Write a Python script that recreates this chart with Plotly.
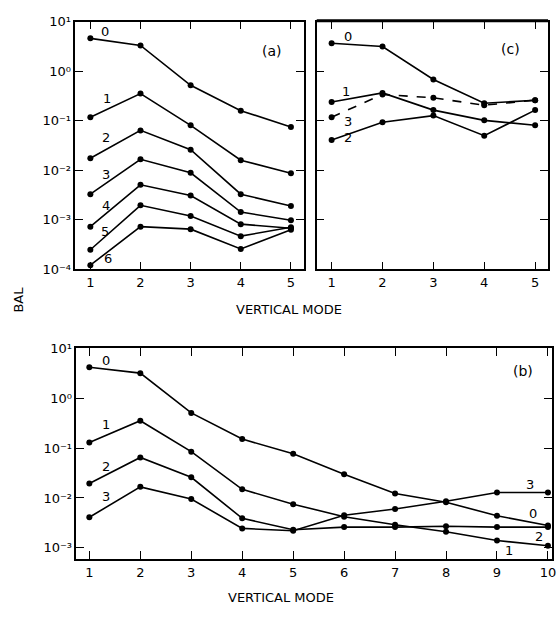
import plotly.graph_objects as go

# ---------------- data ----------------
modes_ac = [1, 2, 3, 4, 5]
a0 = [4.6, 3.3, 0.52, 0.16, 0.075]
a1 = [0.118, 0.354, 0.081, 0.016, 0.0087]
a2 = [0.0175, 0.064, 0.026, 0.0033, 0.0019]
a3 = [0.0033, 0.0167, 0.0089, 0.00144, 0.00098]
a4 = [0.00073, 0.0051, 0.0031, 0.00082, 0.00068]
a5 = [0.00025, 0.00197, 0.0012, 0.00047, 0.00071]
a6 = [0.000122, 0.00073, 0.00065, 0.00026, 0.00063]

c0 = [3.65, 3.14, 0.68, 0.225, 0.26]
c1 = [0.24, 0.365, 0.164, 0.102, 0.081]
c2 = [0.041, 0.093, 0.127, 0.05, 0.164]
c3 = [0.118, 0.34, 0.29, 0.206, 0.26]

modes_b = [1, 2, 3, 4, 5, 6, 7, 8, 9, 10]
b0 = [4.2, 3.2, 0.51, 0.152, 0.077, 0.030, 0.0123, 0.0082, 0.0044, 0.0028]
b1 = [0.13, 0.355, 0.085, 0.0149, 0.0075, 0.0042, 0.0029, 0.0021, 0.0014, 0.0011]
b2 = [0.0195, 0.065, 0.026, 0.0039, 0.0023, 0.0026, 0.0026, 0.0027, 0.0026, 0.0026]
b3 = [0.0041, 0.0167, 0.0095, 0.00245, 0.0022, 0.0045, 0.006, 0.0086, 0.0129, 0.0129]

ytick_vals_a = [10, 1, 0.1, 0.01, 0.001, 0.0001]
ytick_text_a = ["10¹", "10⁰", "10⁻¹", "10⁻²", "10⁻³", "10⁻⁴"]
ytick_vals_b = [10, 1, 0.1, 0.01, 0.001]
ytick_text_b = ["10¹", "10⁰", "10⁻¹", "10⁻²", "10⁻³"]

# ---------------- layout helpers ----------------
W, H = 558, 617
def px(x):
    return x / W
def py(y):
    return 1 - y / H

FONT = "DejaVu Sans"
fig = go.Figure()

def add_series(xs, ys, xa, ya, dash="solid"):
    fig.add_trace(go.Scatter(
        x=xs, y=ys, xaxis=xa, yaxis=ya, mode="lines+markers",
        line=dict(color="black", width=1.6, dash=dash),
        marker=dict(color="black", size=6),
        showlegend=False, hoverinfo="skip"))

for s in [a0, a1, a2, a3, a4, a5, a6]:
    add_series(modes_ac, s, "x", "y")
for s, d in [(c0, "solid"), (c1, "solid"), (c2, "solid"), (c3, "dash")]:
    add_series(modes_ac, s, "x2", "y2", d)
for s in [b0, b1, b2, b3]:
    add_series(modes_b, s, "x3", "y3")

axis_common = dict(showline=True, linecolor="black", linewidth=1.5, mirror="allticks",
                   ticks="inside", ticklen=8, tickwidth=1.2, tickcolor="black",
                   showgrid=False, zeroline=False, ticklabeloverflow="allow",
                   tickfont=dict(family=FONT, size=13, color="black"))

fig.update_layout(
    width=W, height=H, margin=dict(l=0, r=0, t=0, b=0),
    paper_bgcolor="white", plot_bgcolor="white",
    font=dict(family=FONT, size=12, color="black"),
    xaxis=dict(domain=[px(76), px(306)], range=[0.703, 5.257], tickvals=modes_ac,
               anchor="y", **axis_common),
    yaxis=dict(domain=[py(269), py(15)], type="log", range=[-4, 1],
               tickvals=ytick_vals_a, ticktext=ytick_text_a, anchor="x", **axis_common),
    xaxis2=dict(domain=[px(319), px(552)], range=[0.707, 5.254], tickvals=modes_ac,
                anchor="y2", **axis_common),
    yaxis2=dict(domain=[py(269), py(15)], type="log", range=[-4, 1],
                tickvals=ytick_vals_a, showticklabels=False, anchor="x2", **axis_common),
    xaxis3=dict(domain=[px(77), px(556)], range=[0.747, 10.08], tickvals=modes_b,
                anchor="y3", **axis_common),
    yaxis3=dict(domain=[py(566), py(350)], type="log", range=[-3.23, 1],
                tickvals=ytick_vals_b, ticktext=ytick_text_b, anchor="x3", **axis_common),
)

# thick top border of panel (c)
fig.add_shape(type="line", xref="paper", yref="paper",
              x0=px(319), x1=px(552), y0=py(14), y1=py(14),
              line=dict(color="black", width=3))

def label(text, x, y, size=13, angle=0):
    fig.add_annotation(text=text, x=px(x), y=py(y), xref="paper", yref="paper",
                       showarrow=False, textangle=angle,
                       font=dict(family=FONT, size=size, color="black"),
                       xanchor="center", yanchor="middle")

# panel (a) labels
for t, x, y in [("0", 106, 25), ("1", 108, 94), ("2", 107, 134), ("3", 107, 172),
                ("4", 107, 203), ("5", 106, 230), ("6", 109, 258)]:
    label(t, x, y)
label("(a)", 274, 45, 14)
# panel (c) labels
for t, x, y in [("0", 351, 30), ("1", 349, 87), ("3", 351, 117), ("2", 351, 134)]:
    label(t, x, y)
label("(c)", 514, 43, 14)
# panel (b) labels
for t, x, y in [("0", 107, 362), ("1", 107, 428), ("2", 107, 471), ("3", 107, 502),
                ("3", 534, 489), ("0", 537, 519), ("2", 543, 543), ("1", 513, 557)]:
    label(t, x, y)
label("(b)", 527, 373, 14)

# axis titles
label("VERTICAL MODE", 291, 310, 13)
label("VERTICAL MODE", 283, 605, 13)
label("BAL", 19, 300, 13, -90)

fig.write_html("out.html", config={"displayModeBar": False},
               post_script="document.body.style.margin='0';document.body.style.overflow='hidden';")
